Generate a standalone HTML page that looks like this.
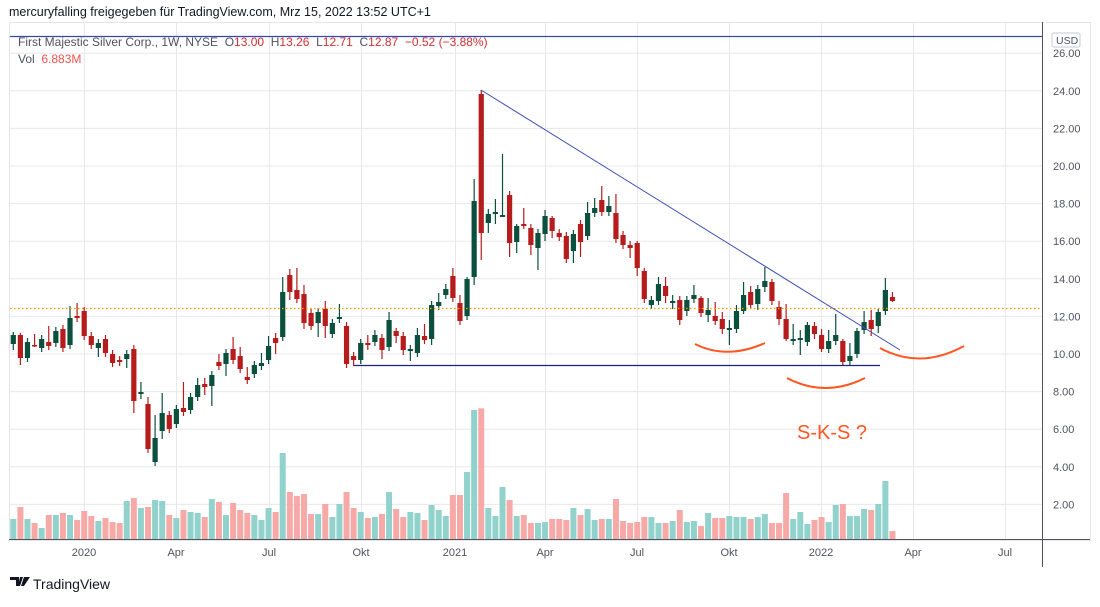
<!DOCTYPE html>
<html><head><meta charset="utf-8"><style>
html,body{margin:0;padding:0;background:#fff;}
body{width:1100px;height:602px;overflow:hidden;font-family:"Liberation Sans",sans-serif;}
</style></head><body>
<svg id="c" width="1100" height="602" xmlns="http://www.w3.org/2000/svg" font-family="Liberation Sans, sans-serif">
<rect width="1100" height="602" fill="#fff"/>
<text x="9" y="16" font-size="12.5" fill="#131722">mercuryfalling freigegeben für TradingView.com, Mrz 15, 2022 13:52 UTC+1</text>
<rect x="9.5" y="22.5" width="1081" height="518" fill="none" stroke="#e6e6ea"/>
<g id="grid" stroke="#e8e8ec" stroke-width="1"></g>
<g id="vol"></g>
<g id="cand"></g>
<line x1="10" y1="36.5" x2="1042" y2="36.5" stroke="#3949ab" stroke-width="1.2"/>
<line x1="10" y1="308.5" x2="1042" y2="308.5" stroke="#ff9800" stroke-width="1.2" stroke-dasharray="1.5,2.5"/>
<line x1="481" y1="90" x2="900" y2="350" stroke="#3f51b5" stroke-width="1"/>
<line x1="354" y1="365.5" x2="880" y2="365.5" stroke="#1a237e" stroke-width="1.3"/>
<path d="M695,344 Q727,360 765,343" fill="none" stroke="#ff5722" stroke-width="2"/>
<path d="M787,378 Q825,398 865,378" fill="none" stroke="#ff5722" stroke-width="2"/>
<path d="M880,348 Q920,370 964,346" fill="none" stroke="#ff5722" stroke-width="2"/>
<text x="797" y="439" font-size="20" fill="#ff5722">S-K-S ?</text>
<line x1="9" y1="539.5" x2="1090" y2="539.5" stroke="#50535e" stroke-width="1"/>
<line x1="1042.5" y1="22" x2="1042.5" y2="567" stroke="#50535e" stroke-width="1"/>
<g id="lbl" font-size="11" fill="#50535e"></g>
<rect x="1052" y="33" width="28" height="14" rx="2" fill="#fff" stroke="#c5c8d0"/>
<text x="1056" y="44" font-size="10.5" fill="#50535e">USD</text>
<text x="18" y="46" font-size="12" fill="#50535e">First Majestic Silver Corp., 1W, NYSE&#160;&#160;O<tspan fill="#d32f2f">13.00</tspan>&#160;&#160;H<tspan fill="#d32f2f">13.26</tspan>&#160;&#160;L<tspan fill="#d32f2f">12.71</tspan>&#160;&#160;C<tspan fill="#d32f2f">12.87&#160;&#160;−0.52 (−3.88%)</tspan></text>
<text x="18" y="63" font-size="12" fill="#50535e">Vol&#160;&#160;<tspan fill="#ef5350">6.883M</tspan></text>
<g transform="translate(10,577)"><path d="M0,0h9v9h-3v-6h-6z M10,0h3l-3,9h-2z M14,0h6l-6,9h-3z" fill="#131722"/></g>
<text x="33" y="589" font-size="14" fill="#131722">TradingView</text>
</svg>
<script>
var NS="http://www.w3.org/2000/svg";
function el(p,t,a){var e=document.createElementNS(NS,t);for(var k in a)e.setAttribute(k,a[k]);document.getElementById(p).appendChild(e);return e;}
var vx=[84,176,269,361,455,545,637,729,821,913,1005];
vx.forEach(function(x){el("grid","line",{x1:x+.5,y1:23,x2:x+.5,y2:539});});
var vn=["2020","Apr","Jul","Okt","2021","Apr","Jul","Okt","2022","Apr","Jul"];
vx.forEach(function(x,i){var t=el("lbl","text",{x:x,y:556,"text-anchor":"middle"});t.textContent=vn[i];});
for(var p=2;p<=26;p+=2){var y=354-(p-10)*18.8;el("grid","line",{x1:10,y1:y,x2:1042,y2:y});var t=el("lbl","text",{x:1053,y:y+4});t.textContent=p.toFixed(2);}
var C=[
[335,344,'G',332,350],[335,358,'R',333,365],[342,358,'G'],[345,346,'R',334,347],[339,348,'G'],[342,346,'R',326],[331,343,'G'],[329,348,'R'],[318,345,'G',306],[316,318,'R',303],
[311,336,'R'],[336,345,'R'],[343,348,'G',null,357],[339,353,'R'],[354,363,'R'],[360,362,'R'],[354,359,'G',null,368],[349,401,'R',null,413],[392,394,'G',382,399],[404,449,'R',397],
[438,462,'G',415],[413,431,'G',393,439],[415,429,'R'],[409,424,'G'],[408,412,'R',382],[397,410,'G'],[385,397,'G',378],[384,387,'R',378,395],[375,386,'G',null,406],[362,366,'R',354],
[353,364,'G',null,376],[349,360,'R',337],[356,369,'R',347],[377,380,'R',367,384],[365,374,'G'],[363,366,'G',353],[346,360,'G',336],[338,343,'R',333,354],[292,337,'G',277],[275,292,'R',269,300],
[290,299,'R',268],[294,323,'R',285,329],[313,326,'R'],[312,323,'G',null,337],[309,326,'R',301,338],[323,334,'G'],[317,319,'G',304],[326,364,'R',322],[356,360,'R',null,366],[343,360,'G'],
[343,345,'R',335,350],[335,342,'G',330],[338,350,'R',null,359],[320,347,'G',312],[331,336,'R',328,343],[336,350,'R',null,355],[349,351,'G',345,361],[335,353,'G',328],[336,340,'R',324],[305,339,'G',301,345],
[302,306,'G',293],[289,295,'G',284],[276,298,'R',268,302],[303,321,'R',295],[279,316,'G',277],[201,277,'G',179,285],[94,233,'R',90,260],[214,223,'G',209,233],[212,214,'G',199,224],[215,217,'G',154,216],
[195,243,'R',191,257],[226,242,'G',224,253],[224,226,'R',208,229],[228,245,'R',null,255],[233,248,'G',null,270],[216,234,'G',210,241],[218,231,'R',216,238],[233,237,'R'],[236,259,'R'],[234,251,'G',null,263],
[224,242,'R',null,257],[213,236,'G',202],[208,213,'G',198],[200,212,'R',186],[206,212,'G',196],[213,239,'R',194],[235,245,'R'],[245,248,'R',null,258],[243,268,'R',241,276],[271,299,'R',268],
[300,305,'G',null,309],[284,301,'G',277],[286,296,'R',277,303],[301,303,'G',295,309],[300,320,'R',null,325],[300,311,'G',null,316],[295,299,'G',285],[298,313,'R',296],[310,315,'G',298,322],[316,321,'R',302],
[319,329,'R',312,334],[328,330,'G',320,345],[311,329,'G',305],[295,311,'G',282,314],[292,305,'R',286],[289,304,'G',null,310],[281,287,'G',267,292],[282,301,'R',279],[307,319,'R',301,325],[319,339,'R',304,341],
[339,341,'G',324,345],[338,340,'G',330,355],[325,342,'G',322],[326,334,'R',322,339],[335,349,'R',329,352],[341,349,'G',330],[335,341,'G',314],[341,362,'R',339,366],[356,361,'G',343],[331,354,'G',328],
[322,330,'G',311],[320,329,'R',310,336],[312,326,'G',309,333],[290,311,'G',278,315],[297,301,'R',292,302]];
var V1=[['G',237],['R',201],['G',237],['R',249],['G',264],['R',225],['G',225],['R',219],['G',225],['R',240],['R',213],['R',228],['G',243],['R',234],['R',246],['R',249],['G',183],['R',174],['G',204],['R',201],['G',180],['G',183],['R',225],['G',234],['R',210],['G',216],['G',219],['R',231],['G',177],['R',186],['G',225],['R',189],['R',210],['R',219],['G',225],['G',240],['G',204],['R',216],['G',39],['R',156],['R',168],['R',162],['R',222],['G',222],['R',192],['G',231],['G',192],['R',156],['R',204],['G',216],['R',234],['G',231],['R',222],['G',156],['R',207],['R',231],['G',216],['G',219],['R',240],['G',195],['G',210],['G',228],['R',165],['R',165],['G',96],['G',-90],['R',-95],['G',204],['G',228],['G',141],['R',180],['G',228],['R',225],['R',249]];
var V2=[['G',249],['G',246],['R',237],['R',237],['R',240],['G',204],['R',225],['G',207],['G',240],['R',237],['G',237],['R',177],['R',243],['R',249],['R',246],['R',231],['G',231],['G',249],['R',249],['G',243],['R',210],['G',246],['G',243],['R',258],['G',219],['R',234],['R',234],['G',228],['G',231],['G',231],['R',237],['G',231],['G',222],['R',249],['R',249],['R',159],['G',237],['G',216],['G',252],['R',240],['R',231],['G',246],['G',195],['R',192],['G',228],['G',228],['G',207],['R',210],['G',192],['G',123],['R',273]];
var V=V1.concat(V2);
function X(i){return 13.3+i*7.09;}
V.forEach(function(v,i){var top=440+v[1]/3;el("vol","rect",{x:X(i)-3,y:top,width:6,height:539-top,fill:v[0]=='G'?'#92d2cc':'#f7a9a7'});});
C.forEach(function(c,i){var col=c[2]=='G'?'#0b4f3d':'#b71c1c';var x=X(i);var hi=c[3]!=null?c[3]:c[0]-4;var lo=c[4]!=null?c[4]:c[1]+4;
el("cand","line",{x1:x,y1:hi,x2:x,y2:lo,stroke:col,"stroke-width":1.2});
el("cand","rect",{x:x-2.6,y:c[0],width:5.2,height:Math.max(1.5,c[1]-c[0]),fill:col});});
</script>
</body></html>
